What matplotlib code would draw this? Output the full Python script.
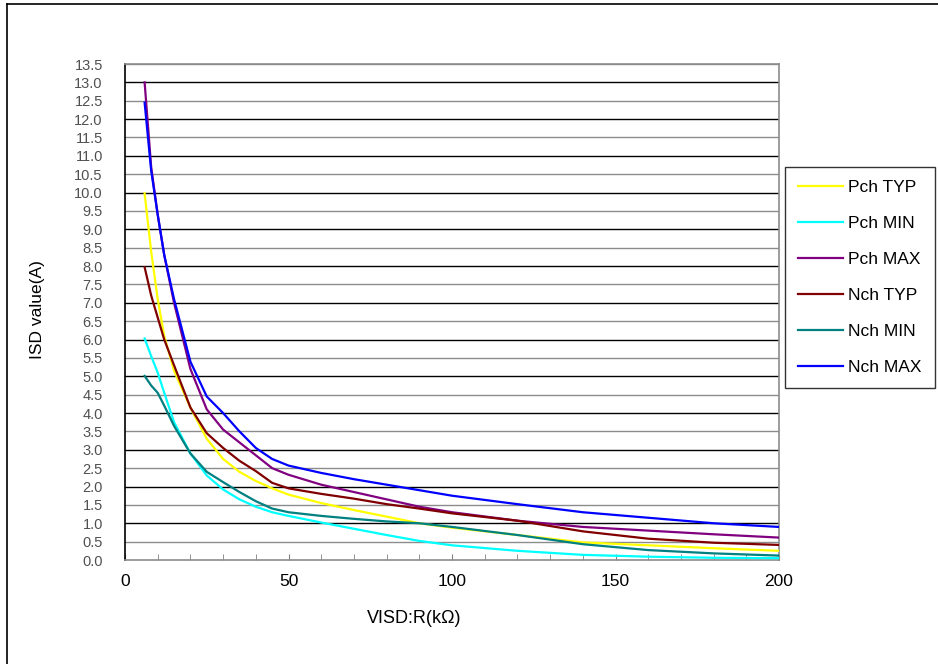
import matplotlib
matplotlib.use("Agg")
import matplotlib.pyplot as plt
from matplotlib.lines import Line2D
from matplotlib.ticker import MultipleLocator, FixedLocator

plt.rcParams['font.family'] = ['Liberation Sans', 'Noto Sans CJK JP', 'DejaVu Sans']

x_vals = [6, 8, 10, 12, 15, 20, 25, 30, 35, 40, 45, 50, 60, 70, 80, 90, 100, 120, 140, 160, 180, 200]

pch_typ = [9.98, 8.4, 7.1, 6.1, 5.15, 4.15, 3.3, 2.75, 2.4, 2.15, 1.95, 1.78, 1.55, 1.36, 1.18, 1.0, 0.88, 0.68, 0.48, 0.40, 0.32, 0.25]
pch_min = [6.03, 5.55, 5.1, 4.55, 3.75, 2.9, 2.3, 1.92, 1.65, 1.45, 1.3, 1.2, 1.02, 0.85, 0.68, 0.52, 0.40, 0.25, 0.14, 0.09, 0.06, 0.05]
pch_max = [13.0, 10.7, 9.4, 8.3, 7.0, 5.2, 4.1, 3.55, 3.2, 2.85, 2.5, 2.32, 2.05, 1.85, 1.65, 1.45, 1.3, 1.07, 0.9, 0.8, 0.7, 0.61]
nch_typ = [7.97, 7.2, 6.6, 6.0, 5.3, 4.15, 3.45, 3.05, 2.7, 2.42, 2.1, 1.95, 1.8, 1.67, 1.52, 1.4, 1.27, 1.07, 0.78, 0.58, 0.47, 0.41]
nch_min = [5.01, 4.75, 4.55, 4.2, 3.65, 2.9, 2.4, 2.12, 1.85, 1.6, 1.4, 1.3, 1.2, 1.12, 1.05, 1.0, 0.9, 0.68, 0.43, 0.27, 0.18, 0.12]
nch_max = [12.45, 10.6, 9.4, 8.3, 7.1, 5.4, 4.45, 4.0, 3.5, 3.05, 2.75, 2.57, 2.37, 2.2, 2.05, 1.9, 1.75, 1.52, 1.3, 1.15, 1.0, 0.9]

series_names = ["Pch TYP", "Pch MIN", "Pch MAX", "Nch TYP", "Nch MIN", "Nch MAX"]
series_vals = [pch_typ, pch_min, pch_max, nch_typ, nch_min, nch_max]
series_colors = ["#FFFF00", "#00FFFF", "#800080", "#800000", "#008080", "#0000FF"]

y_ticks = [i * 0.5 for i in range(28)]
x_ticks = [0, 50, 100, 150, 200]

fig = plt.figure(figsize=(9.38, 6.64), dpi=100)
ax = fig.add_axes([125/938, 1-560/664, (779-125)/938, (560-64)/664])

# gridlines
for yv in y_ticks[1:]:
    col = "#000000" if abs(yv - round(yv)) < 1e-9 else "#8c8c8c"
    ax.axhline(yv, color=col, lw=1.0, zorder=1)

handles = []
for name, vals, c in zip(series_names, series_vals, series_colors):
    ln, = ax.plot(x_vals, vals, color=c, lw=1.6, label=name, zorder=3)
    handles.append(ln)

ax.set_xlim(0, 200)
ax.set_ylim(0, 13.5)
ax.yaxis.set_major_locator(FixedLocator(y_ticks))
ax.set_yticklabels([f"{v:.1f}" for v in y_ticks], color="#505050", fontsize=10.5)
ax.tick_params(axis='y', length=0, pad=16)
ax.xaxis.set_major_locator(FixedLocator(x_ticks))
ax.xaxis.set_minor_locator(MultipleLocator(10))
ax.set_xticklabels([str(v) for v in x_ticks], fontsize=12.5, color="#000000")
ax.tick_params(axis='x', which='both', direction='in', length=4, color="#808080", pad=10)

for s in ["top", "right", "bottom"]:
    ax.spines[s].set_color("#8c8c8c")
    ax.spines[s].set_linewidth(1.2)
ax.spines["left"].set_color("#000000")
ax.spines["left"].set_linewidth(1.2)

ax.set_xlabel("VISD:R(kΩ)", fontsize=13)
ax.xaxis.set_label_coords((414-125)/654, -(610-560)/496)
ax.set_ylabel("ISD value(A)", fontsize=12.5)
ax.yaxis.set_label_coords(-(125-45)/654, (560-310)/496)

leg = fig.legend(handles=handles, labels=series_names, loc="upper left",
                 bbox_to_anchor=(785/938, 1-167/664), frameon=True, fancybox=False,
                 edgecolor="#000000", fontsize=12.5, handlelength=2.6, handletextpad=0.3,
                 labelspacing=1.2, borderpad=0.75, borderaxespad=0)
leg.get_frame().set_linewidth(1.0)

# outer frame (top and left edges)
fig.add_artist(Line2D([7/938, 7/938], [0, 1-4/664], transform=fig.transFigure, color="black", lw=1.2))
fig.add_artist(Line2D([7/938, 1], [1-4/664, 1-4/664], transform=fig.transFigure, color="black", lw=1.2))

fig.savefig("out.png", dpi=100)
